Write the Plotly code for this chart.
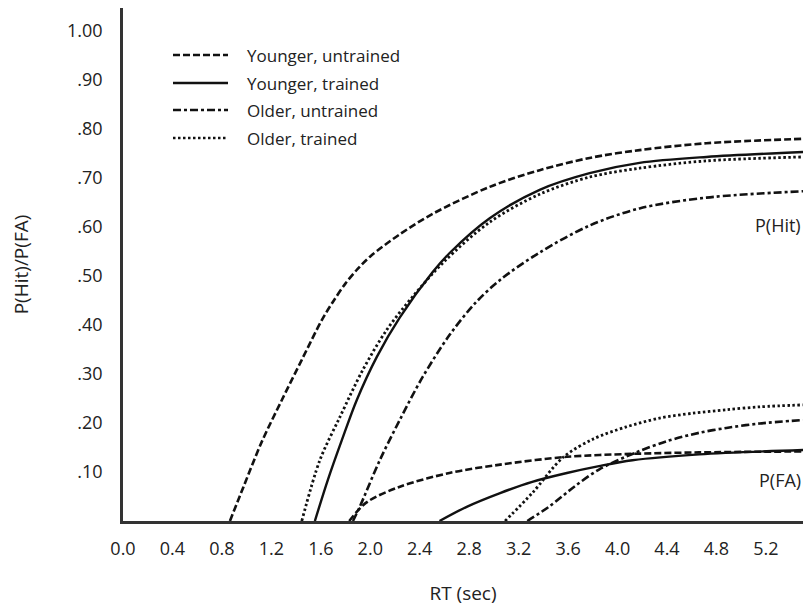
import plotly.graph_objects as go

# ---------------- data ----------------
series_names = ["Younger, untrained", "Younger, trained", "Older, untrained", "Older, trained"]

# P(Hit) curves
hit_yu_x = [0.865, 0.975, 1.123, 1.285, 1.446, 1.608, 1.70, 1.80, 1.90, 2.0, 2.238, 2.505, 2.966, 3.37, 3.774, 4.178, 4.719, 5.5]
hit_yu_y = [0.0, 0.07, 0.162, 0.247, 0.329, 0.41, 0.448, 0.485, 0.515, 0.54, 0.585, 0.627, 0.682, 0.716, 0.741, 0.757, 0.771, 0.780]

hit_yt_x = [1.552, 1.657, 1.77, 1.891, 2.053, 2.238, 2.505, 2.642, 2.966, 3.37, 3.774, 4.178, 4.719, 5.5]
hit_yt_y = [0.0, 0.084, 0.165, 0.247, 0.335, 0.415, 0.508, 0.547, 0.618, 0.676, 0.71, 0.731, 0.743, 0.753]

hit_ou_x = [1.86, 1.915, 2.077, 2.238, 2.424, 2.642, 2.85, 3.05, 3.37, 3.774, 4.178, 4.719, 5.5]
hit_ou_y = [0.0, 0.029, 0.124, 0.206, 0.294, 0.38, 0.445, 0.492, 0.548, 0.603, 0.638, 0.660, 0.673]

hit_ot_x = [1.446, 1.592, 1.754, 1.939, 2.133, 2.35, 2.6, 2.966, 3.37, 3.774, 4.178, 4.719, 5.5]
hit_ot_y = [0.0, 0.124, 0.212, 0.308, 0.39, 0.46, 0.53, 0.61, 0.667, 0.702, 0.72, 0.735, 0.743]

# P(FA) curves
fa_yu_x = [1.83, 1.97, 2.24, 2.64, 3.05, 3.59, 4.12, 4.66, 5.5]
fa_yu_y = [0.0, 0.038, 0.07, 0.098, 0.115, 0.131, 0.137, 0.140, 0.142]

fa_yt_x = [2.56, 2.78, 3.05, 3.31, 3.59, 3.85, 4.12, 4.66, 5.5]
fa_yt_y = [0.0, 0.029, 0.057, 0.080, 0.098, 0.112, 0.124, 0.136, 0.145]

fa_ou_x = [3.27, 3.45, 3.65, 3.85, 4.15, 4.40, 4.66, 4.88, 5.15, 5.5]
fa_ou_y = [0.0, 0.03, 0.07, 0.105, 0.14, 0.163, 0.18, 0.19, 0.199, 0.206]

fa_ot_x = [3.09, 3.31, 3.56, 3.80, 4.07, 4.34, 4.61, 4.88, 5.15, 5.5]
fa_ot_y = [0.0, 0.057, 0.13, 0.167, 0.192, 0.21, 0.22, 0.227, 0.233, 0.237]

x_tick_vals = [0.0, 0.4, 0.8, 1.2, 1.6, 2.0, 2.4, 2.8, 3.2, 3.6, 4.0, 4.4, 4.8, 5.2]
x_tick_text = ["0.0", "0.4", "0.8", "1.2", "1.6", "2.0", "2.4", "2.8", "3.2", "3.6", "4.0", "4.4", "4.8", "5.2"]
y_tick_vals = [0.1, 0.2, 0.3, 0.4, 0.5, 0.6, 0.7, 0.8, 0.9, 1.0]
y_tick_text = [".10", ".20", ".30", ".40", ".50", ".60", ".70", ".80", ".90", "1.00"]

# ---------------- styling ----------------
FONT = "Open Sans, Noto Sans, sans-serif"
INK = "#111111"
TEXT = "#222222"
DASHES = {
    "Younger, untrained": "7px,3px",
    "Younger, trained": "solid",
    "Older, untrained": "8px,3px,3px,3px",
    "Older, trained": "2.5px,2.5px",
}

fig = go.Figure()


def add_curve(x, y, name, width=2.6):
    fig.add_trace(go.Scatter(
        x=x, y=y, mode="lines", name=name, showlegend=False, hoverinfo="skip",
        line=dict(color=INK, width=width, dash=DASHES[name], shape="spline", smoothing=0.9),
    ))


add_curve(hit_yu_x, hit_yu_y, "Younger, untrained")
add_curve(hit_yt_x, hit_yt_y, "Younger, trained", 2.4)
add_curve(hit_ou_x, hit_ou_y, "Older, untrained")
add_curve(hit_ot_x, hit_ot_y, "Older, trained", 2.8)
add_curve(fa_yu_x, fa_yu_y, "Younger, untrained")
add_curve(fa_yt_x, fa_yt_y, "Younger, trained", 2.4)
add_curve(fa_ou_x, fa_ou_y, "Older, untrained")
add_curve(fa_ot_x, fa_ot_y, "Older, trained", 2.8)

# plot-area geometry (pixels) used for the hand-made legend
L, R, T, B = 123, 803, 8, 521


def px_x(p):
    return (p - L) / (R - L)


def px_y(p):
    return (B - p) / (B - T)


legend_rows = [55, 83, 110, 138]
shapes = []
annotations = []
for name, row in zip(series_names, legend_rows):
    shapes.append(dict(type="line", xref="paper", yref="paper",
                       x0=px_x(173), x1=px_x(228), y0=px_y(row), y1=px_y(row),
                       line=dict(color=INK, width=2.6, dash=DASHES[name])))
    annotations.append(dict(xref="paper", yref="paper", x=px_x(245), y=px_y(row),
                            xanchor="left", yanchor="middle", showarrow=False,
                            text=name, font=dict(family=FONT, size=17, color=TEXT)))

annotations.append(dict(xref="paper", yref="y", x=1.0, y=0.604, xanchor="right", yanchor="middle",
                        showarrow=False, text="P(Hit)", font=dict(family=FONT, size=18, color=TEXT)))
annotations.append(dict(xref="paper", yref="y", x=1.0, y=0.084, xanchor="right", yanchor="middle",
                        showarrow=False, text="P(FA)", font=dict(family=FONT, size=18, color=TEXT)))

fig.update_layout(
    width=803, height=609,
    margin=dict(l=L, r=803 - R, t=T, b=609 - B),
    paper_bgcolor="white", plot_bgcolor="white",
    font=dict(family=FONT, size=18, color=TEXT),
    shapes=shapes, annotations=annotations,
    xaxis=dict(range=[0, 5.5], tickvals=x_tick_vals, ticktext=x_tick_text,
               showgrid=False, zeroline=False, showline=True, linecolor="#333333", linewidth=2.5,
               ticks="", ticklabelstandoff=10, tickfont=dict(size=18),
               title=dict(text="RT (sec)", standoff=28, font=dict(size=19))),
    yaxis=dict(range=[0, 1.047], tickvals=y_tick_vals, ticktext=y_tick_text,
               showgrid=False, zeroline=False, showline=True, linecolor="#333333", linewidth=2.5,
               ticks="", ticklabelstandoff=14, tickfont=dict(size=18),
               title=dict(text="P(Hit)/P(FA)", standoff=34, font=dict(size=19))),
)

fig.write_html("out.html", config={"displayModeBar": False},
               post_script="document.body.style.margin='0';document.body.style.overflow='hidden';")
